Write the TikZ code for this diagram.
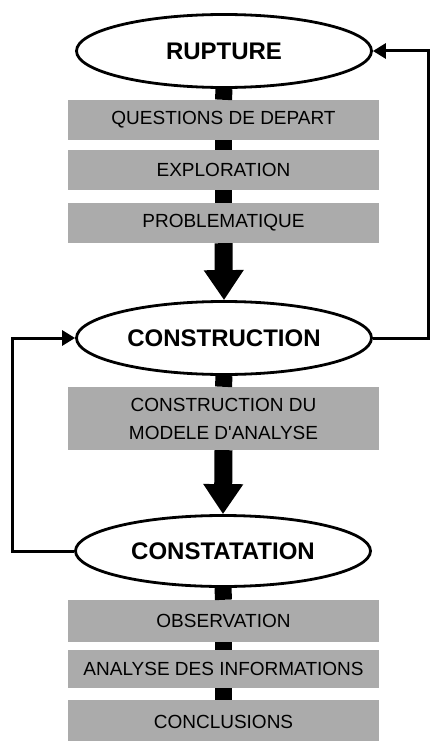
\documentclass[tikz,border=0pt]{standalone}
\usepackage{fontspec}
\setmainfont{Liberation Sans}
\usetikzlibrary{shapes.geometric,arrows.meta}

\begin{document}
\begin{tikzpicture}[
		x=1pt, y=-1pt,
		stage/.style={ellipse, draw, line width=2.8pt, fill=white, minimum width=295pt, minimum height=73pt, inner sep=0pt, font=\fontsize{24}{28}\selectfont\bfseries},
		task/.style={rectangle, fill=black!33, minimum width=311pt, inner sep=0pt, align=center, font=\fontsize{19}{28}\selectfont},
		link/.style={line width=17pt},
		bigarrow/.style={line width=18pt, -{Triangle[width=38pt, length=30pt]}},
		loop/.style={line width=3pt, -{Triangle[width=15pt, length=13pt]}}
	]
  \useasboundingbox (0,0) rectangle (429,741);
  \node (rupture) [stage] at (224,51) {RUPTURE};
  \node (q_depart) [task, minimum height=40pt] at (223.5,120) {QUESTIONS DE DEPART};
  \node (explor) [task, minimum height=40pt] at (223.5,170) {EXPLORATION};
  \node (probl) [task, minimum height=40pt] at (223.5,223) {PROBLEMATIQUE};
  \node (construction) [stage] at (224,338) {CONSTRUCTION};
  \node (modele) [task, minimum height=63pt] at (223.5,418.5) {CONSTRUCTION DU\\MODELE D\textquotesingle ANALYSE};
  \node (constatation) [stage, minimum height=71pt] at (223,551) {CONSTATATION};
  \node (observ) [task, minimum height=42pt] at (223.5,621) {OBSERVATION};
  \node (analyse) [task, minimum height=38pt] at (223.5,669) {ANALYSE DES INFORMATIONS};
  \node (concl) [task, minimum height=44pt] at (223.5,722) {CONCLUSIONS};
  \draw [link] (rupture.south) -- (q_depart.north);
  \draw [link] (q_depart.south) -- (explor.north);
  \draw [link] (explor.south) -- (probl.north);
  \draw [bigarrow] (probl.south) -- (construction.north);
  \draw [link] (construction.south) -- (modele.north);
  \draw [bigarrow] (modele.south) -- (constatation.north);
  \draw [link] (constatation.south) -- (observ.north);
  \draw [link] (observ.south) -- (analyse.north);
  \draw [link] (analyse.south) -- (concl.north);
  \draw [loop] (construction.east) -- ++(56,0) |- (rupture.east);
  \draw [loop] (constatation.west) -- ++(-62,0) |- (construction.west);
\end{tikzpicture}
\end{document}
